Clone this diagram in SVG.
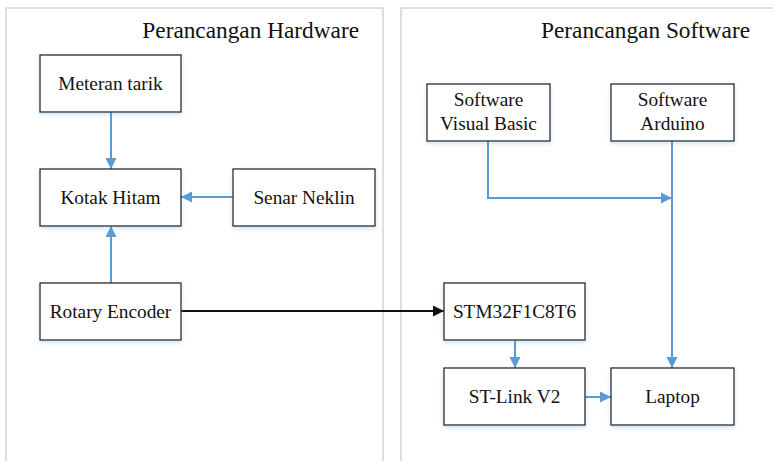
<svg xmlns="http://www.w3.org/2000/svg" width="773" height="461" viewBox="0 0 773 461">
<style>
.panel{fill:#fff;stroke:#d4d4d4;stroke-width:1.5}
.box{fill:#fff;stroke:#2a2a2a;stroke-width:1.3;filter:url(#sh)}
.t{font-family:"Liberation Serif","Times New Roman",serif;font-size:19.3px;fill:#111;text-anchor:middle}
.title{font-family:"Liberation Serif","Times New Roman",serif;font-size:23.3px;fill:#111;text-anchor:end}
.b{fill:none;stroke:#5b9bd5;stroke-width:2;marker-end:url(#ab)}
.k{fill:none;stroke:#111;stroke-width:2;marker-end:url(#ak)}
</style>
<defs>
<filter id="sh" x="-10%" y="-10%" width="120%" height="140%">
<feDropShadow dx="0" dy="2" stdDeviation="2" flood-color="#5b9bd5" flood-opacity="0.3"/>
</filter>
<marker id="ab" viewBox="0 0 10 10" refX="10" refY="5" markerWidth="11" markerHeight="12" markerUnits="userSpaceOnUse" orient="auto">
<path d="M0,0 L10,5 L0,10 z" fill="#5b9bd5"/>
</marker>
<marker id="ak" viewBox="0 0 10 10" refX="10" refY="5" markerWidth="11" markerHeight="12" markerUnits="userSpaceOnUse" orient="auto">
<path d="M0,0 L10,5 L0,10 z" fill="#111"/>
</marker>
</defs>
<rect width="773" height="461" fill="#fff"/>
<g id="panel-hardware">
<rect class="panel" x="6" y="8" width="377" height="460"/>
<text class="title" x="359" y="38">Perancangan Hardware</text>
</g>
<g id="panel-software">
<rect class="panel" x="401" y="8" width="380" height="460"/>
<text class="title" x="750" y="38">Perancangan Software</text>
</g>
<g id="connectors">
<path class="b" d="M111,112 V169"/>
<path class="b" d="M233,197 H181"/>
<path class="b" d="M111,283 V226"/>
<path class="k" d="M181,311 H444"/>
<path class="b" d="M488,141 V198 H672"/>
<path class="b" d="M672,141 V368"/>
<path class="b" d="M515,340 V368"/>
<path class="b" d="M585,397 H611"/>
</g>
<g id="meteran">
<rect class="box" x="40" y="55" width="141" height="57"/>
<text class="t" x="110.5" y="89.5">Meteran tarik</text>
</g>
<g id="kotak">
<rect class="box" x="40" y="169" width="141" height="57"/>
<text class="t" x="110.5" y="203.5">Kotak Hitam</text>
</g>
<g id="senar">
<rect class="box" x="233" y="169" width="142" height="57"/>
<text class="t" x="304" y="203.5">Senar Neklin</text>
</g>
<g id="rotary">
<rect class="box" x="40" y="283" width="141" height="57"/>
<text class="t" x="110.5" y="317.5">Rotary Encoder</text>
</g>
<g id="vb">
<rect class="box" x="427" y="84" width="123" height="57"/>
<text class="t" x="488.5" y="105.5">Software</text>
<text class="t" x="488.5" y="129.5">Visual Basic</text>
</g>
<g id="arduino">
<rect class="box" x="611" y="84" width="123" height="57"/>
<text class="t" x="672.5" y="105.5">Software</text>
<text class="t" x="672.5" y="129.5">Arduino</text>
</g>
<g id="stm">
<rect class="box" x="444" y="283" width="141" height="57"/>
<text class="t" x="514.5" y="317.5">STM32F1C8T6</text>
</g>
<g id="stlink">
<rect class="box" x="444" y="368" width="141" height="57"/>
<text class="t" x="514.5" y="402.5">ST-Link V2</text>
</g>
<g id="laptop">
<rect class="box" x="611" y="368" width="123" height="57"/>
<text class="t" x="672.5" y="402.5">Laptop</text>
</g>
</svg>
